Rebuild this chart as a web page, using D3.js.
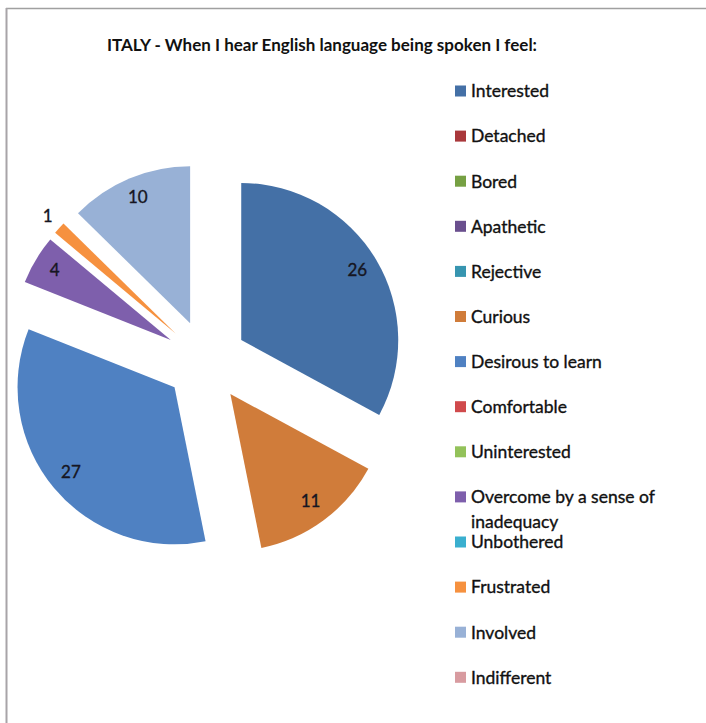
<!DOCTYPE html>
<html>
<head>
<meta charset="utf-8">
<script src="https://cdn.jsdelivr.net/npm/d3@7/dist/d3.min.js"></script>
<style>
  html, body { margin: 0; padding: 0; background: #fff; }
  svg { display: block; }
  text { font-family: Lato, "Open Sans", sans-serif; }
</style>
</head>
<body>
<svg id="chart" width="706" height="723"></svg>
<script>
// Survey answers (Italy)
const categories = [
  "Interested", "Detached", "Bored", "Apathetic", "Rejective", "Curious",
  "Desirous to learn", "Comfortable", "Uninterested",
  "Overcome by a sense of inadequacy", "Unbothered", "Frustrated",
  "Involved", "Indifferent"
];
const values = [26, 0, 0, 0, 0, 11, 27, 0, 0, 4, 0, 1, 10, 0];
const colors = [
  "#4470a6", "#a9383b", "#76a043", "#6a4f8e", "#3795b0", "#d07c3a",
  "#4f81c2", "#d04a4c", "#93c25a", "#7e5fac", "#3aafcf", "#f6913f",
  "#98b1d6", "#d89ba0"
];
const title = "ITALY - When I hear English language being spoken I feel:";

const svg = d3.select("#chart");
const W = 706, H = 723;

// frame
svg.append("line").attr("x1", 6).attr("x2", W).attr("y1", 8.5).attr("y2", 8.5)
  .attr("stroke", "#a0a0a0").attr("stroke-width", 1.5);
svg.append("line").attr("x1", 6.5).attr("x2", 6.5).attr("y1", 8).attr("y2", H)
  .attr("stroke", "#a8a4a8").attr("stroke-width", 2);

// title
svg.append("text")
  .attr("x", 322).attr("y", 51)
  .attr("text-anchor", "middle")
  .attr("font-size", 17).attr("font-weight", 700).attr("fill", "#111")
  .text(title);

// exploded pie
const cx = 206, cy = 361, R = 157, explode = 41;
const pie = d3.pie().sort(null).value(d => d.value).startAngle(0).endAngle(2 * Math.PI);
const data = categories.map((c, i) => ({ name: c, value: values[i], color: colors[i] }));
const arcs = pie(data);
const total = d3.sum(values);

const arc = d3.arc().innerRadius(0).outerRadius(R);
const labelIn = d3.arc().innerRadius(R * 0.86).outerRadius(R * 0.86);
const labelOut = d3.arc().innerRadius(R * 1.1).outerRadius(R * 1.1);

const g = svg.append("g").attr("transform", `translate(${cx},${cy})`);

const slices = g.selectAll("g.slice")
  .data(arcs.filter(d => d.value > 0))
  .join("g")
  .attr("class", "slice")
  .attr("transform", d => {
    const mid = (d.startAngle + d.endAngle) / 2;
    return `translate(${explode * Math.sin(mid)},${-explode * Math.cos(mid)})`;
  });

slices.append("path")
  .attr("d", arc)
  .attr("fill", d => d.data.color);

slices.append("text")
  .attr("transform", d => {
    const small = d.value / total < 0.03;
    const [x, y] = (small ? labelOut : labelIn).centroid(d);
    return `translate(${x},${y - 1.5})`;
  })
  .attr("text-anchor", "middle")
  .attr("dy", "0.36em")
  .attr("font-size", 17)
  .attr("fill", "#161622")
  .attr("stroke", "#161622").attr("stroke-width", 0.35)
  .text(d => d.value);

// legend
const legend = svg.append("g").attr("transform", "translate(455,91)");
const step = 45.1;
const item = legend.selectAll("g.item")
  .data(data)
  .join("g")
  .attr("class", "item")
  .attr("transform", (d, i) => `translate(0,${i * step})`);

item.append("rect")
  .attr("x", 0).attr("y", -5.5).attr("width", 11).attr("height", 11)
  .attr("fill", d => d.color);

item.append("text")
  .attr("x", 16).attr("y", 0).attr("dy", "0.36em")
  .attr("font-size", 17.5).attr("fill", "#111")
  .attr("stroke", "#111").attr("stroke-width", 0.35)
  .each(function (d) {
    const t = d3.select(this);
    if (d.name.length > 24) {
      const words = d.name.split(" ");
      const first = words.slice(0, 5).join(" ");
      const rest = words.slice(5).join(" ");
      t.append("tspan").attr("x", 16).text(first);
      t.append("tspan").attr("x", 16).attr("dy", "1.42em").text(rest);
    } else {
      t.text(d.name);
    }
  });
</script>
</body>
</html>
